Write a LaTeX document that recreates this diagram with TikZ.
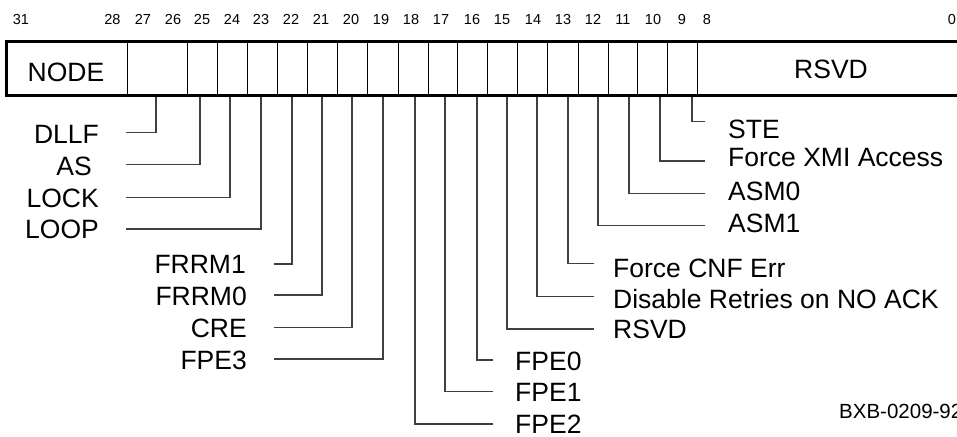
\documentclass[tikz,border=0pt]{standalone}
\usepackage{fontspec}
\setmainfont{Liberation Sans}
\begin{document}
\begin{tikzpicture}[x=1pt,y=-1pt,
  lbl/.style={inner sep=0pt,font=\fontsize{26.5}{26.5}\selectfont},
  lbll/.style={lbl,anchor=base east},
  lblr/.style={lbl,anchor=base west},
  bitnum/.style={inner sep=0pt,anchor=base,font=\fontsize{14.5}{14.5}\selectfont},
  conn/.style={draw=black!75,line width=1.3pt,line join=miter},
  cell/.style={draw=black,line width=1pt},
  frame/.style={draw=black,line width=3.3pt,line join=miter}]
\useasboundingbox (0,0) rectangle (957,436);
\clip (0,0) rectangle (957,436);

% register box
\draw[frame] (975,41.7) -- (6.7,41.7) -- (6.7,95.8) -- (975,95.8);
\foreach \x in {127,187,217,247,277,307,337,367,398,428,457,487,517,547,578,608,637,667,697}
  \draw[cell] (\x,43.3) -- (\x,94.2);
\node[lbl,anchor=base] (fnode) at (66,81.7) {NODE};
\node[lbl,anchor=base] (frsvd) at (831,78.3) {RSVD};

% bit numbers
\foreach \t/\x in {31/21,28/112.5,27/143,26/173,25/202,24/232,23/261,22/291,21/321,20/351,19/381,18/411,17/441,16/472,15/502,14/533,13/563,12/593,11/623,10/653,9/682,8/707,0/952}
  \node[bitnum] (n\t) at (\x,25) {\t};

% labels
\node[lbll] (dllf) at (99,143.3) {DLLF};
\node[lbll] (as) at (92,175) {AS};
\node[lbll] (lock) at (99,207) {LOCK};
\node[lbll] (loop) at (99,238) {LOOP};
\node[lbll] (frrma) at (246,273) {FRRM1};
\node[lbll] (frrmb) at (247,305) {FRRM0};
\node[lbll] (cre) at (247,337) {CRE};
\node[lbll] (fpec) at (247,369) {FPE3};
\node[lblr] (ste) at (728,138.3) {STE};
\node[lblr] (fxmi) at (728,166.7) {Force XMI Access};
\node[lblr] (asma) at (728,200) {ASM0};
\node[lblr] (asmb) at (728,232) {ASM1};
\node[lblr] (fcnf) at (613,277) {Force CNF Err};
\node[lblr] (dis) at (613,308.3) {Disable Retries on NO ACK};
\node[lblr] (rsvd) at (613,338.3) {RSVD};
\node[lblr] (fpez) at (515,370) {FPE0};
\node[lblr] (fpeo) at (515,401.7) {FPE1};
\node[lblr] (fpet) at (515,433) {FPE2};
\node[inner sep=0pt,anchor=base west,font=\fontsize{20.5}{20.5}\selectfont] (fig) at (839,418.3) {BXB-0209-92};

% connectors
\foreach \n/\lx/\ly/\bx in {
  dllf/126/132.7/156, as/126/164.3/200, lock/126/197.3/230, loop/126/229/261,
  frrma/274/264/292, frrmb/274/295/322, cre/274/327.7/352, fpec/274/359/383,
  fpez/493/360/477, fpeo/493/391.7/445, fpet/493/424/415,
  fcnf/594/263.5/568, dis/594/296.7/537, rsvd/594/329/507,
  ste/705/121.7/692, fxmi/705/161/660, asma/705/193.3/629, asmb/705/225.7/598}
{
  \coordinate (c\n) at (\lx,\ly);
  \coordinate (b\n) at (\bx,97);
  \draw[conn] (c\n) -| (b\n);
}
\end{tikzpicture}
\end{document}
